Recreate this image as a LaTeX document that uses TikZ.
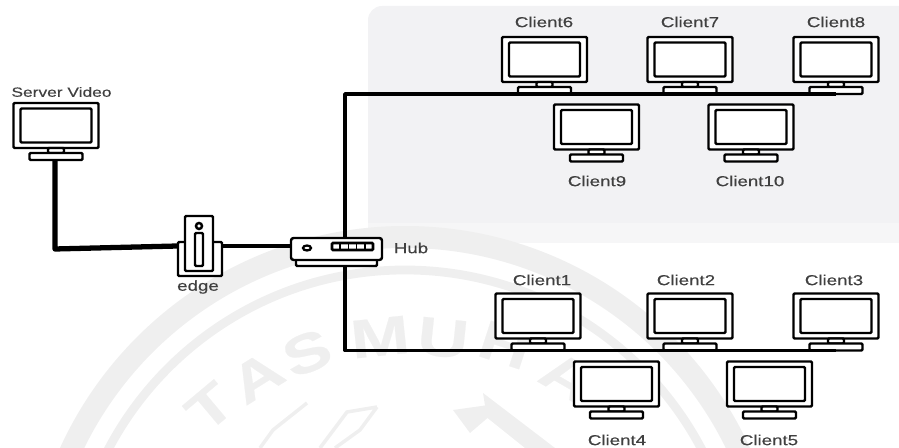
\documentclass[tikz,border=0pt]{standalone}
\usepackage{fontspec}
\setmainfont[FakeStretch=1.3, FakeBold=0.4]{Liberation Sans}
\usepackage{xcolor}
\usepackage{tikz}
\usetikzlibrary{calc, positioning}
\definecolor{zonegray}{HTML}{F2F2F4}
\definecolor{zonefade}{HTML}{F6F6F7}
\definecolor{labelgray}{HTML}{404040}
\definecolor{markgray}{HTML}{EFEFEF}
\tikzset{
    iconline/.style={draw=black, line width=1.4pt, fill=white, rounded corners=0.6pt, inner sep=0pt, outer sep=0pt},
    screen/.style={iconline, minimum width=1.7cm, minimum height=0.9cm},
    panel/.style={iconline, minimum width=1.42cm, minimum height=0.68cm},
    neck/.style={iconline, minimum width=0.32cm, minimum height=0.1cm},
    stand/.style={iconline, minimum width=1.06cm, minimum height=0.14cm},
    devlabel/.style={font=\fontsize{8.2}{9}\selectfont, text=labelgray, inner sep=0pt},
    marktext/.style={font=\fontsize{31}{33}\selectfont\bfseries, text=markgray, inner sep=0pt},
    cable/.style={line width=2pt, line join=round}
}
% Một màn hình: tên, tâm x, tâm y
\newcommand{\monitor}[3]{
    \node[screen] (#1) at (#2,#3) {};
    \node[panel] at (#1) {};
    \node[neck, below=0pt of #1] (#1neck) {};
    \node[stand, below=0pt of #1neck] (#1base) {};
}
\begin{document}
\begin{tikzpicture}[>=latex]
    \useasboundingbox (0,0) rectangle (17.98,8.96);
    % Vùng nền xám
    \fill[zonefade] (7.36,4.1) rectangle (17.98,4.5);
    \fill[zonegray, rounded corners=8pt] (7.36,4.5) -- (7.36,8.84) -- (18.4,8.84) -- (18.4,4.5) -- cycle;
    \fill[zonegray] (7.36,4.5) rectangle (17.98,4.8);

    % Hình mờ phía sau
    \begin{scope}
        \clip (0,0) rectangle (17.98,4.5);
        \draw[markgray, line width=12.5pt] (8.1,-3.14) circle (7.36);
        \draw[markgray, line width=5pt] (8.1,-3.14) circle (6.7);
        \foreach \letter/\mx/\my/\rot in {T/4.2/0.82/40, A/5.14/1.42/32, S/6.14/1.9/22, M/7.6/2.22/6,
                                          U/8.86/2.2/-6, H/10.1/2.06/-18, A/11.34/1.42/-30} {
            \node[marktext, rotate=\rot] at (\mx,\my) {\letter};
        }
        \draw[markgray, line width=2pt] (6.14,0.9) -- (5.46,0.36) -- (5.2,0);
        \draw[markgray, line width=2pt] (7.54,0.82) -- (6.94,0.72) -- (6.4,0) (7.54,0.82) -- (7.2,0.36) -- (6.7,0);
        \fill[markgray] (9.66,1.1) -- (11.1,0) -- (10.5,0) -- (9.75,0.6) -- (9.4,0.3) -- (9.06,0.76) -- (9.7,0.85) -- cycle;
    \end{scope}

    % Máy chủ và các máy trạm
    \monitor{server}{1.12}{6.45}
    \node[devlabel, font=\fontsize{7.6}{9}\selectfont] (serverlabel) at (1.23,7.12) {Server Video};
    \foreach \id/\x/\y/\lx/\ly/\txt in {
        c6/10.89/7.77/10.88/8.52/Client6, c7/13.80/7.77/13.80/8.52/Client7, c8/16.72/7.77/16.72/8.52/Client8,
        c9/11.93/6.42/11.94/5.34/Client9, c10/15.02/6.42/15.00/5.34/Client10,
        c1/10.76/2.64/10.84/3.36/Client1, c2/13.80/2.64/13.72/3.36/Client2, c3/16.72/2.64/16.68/3.36/Client3,
        c4/12.33/1.28/12.34/0.16/Client4, c5/15.39/1.28/15.38/0.16/Client5} {
        \monitor{\id}{\x}{\y}
        \node[devlabel] (\id label) at (\lx,\ly) {\txt};
    }

    % Thiết bị edge
    \node[iconline, minimum width=0.88cm, minimum height=0.68cm] (edgebox) at (4.00,3.78) {};
    \node[iconline, minimum width=0.56cm, minimum height=1.1cm] (edgetower) at (3.98,4.09) {};
    \node[iconline, minimum width=0.16cm, minimum height=0.66cm] (edgeslot) at (3.98,3.97) {};
    \node[iconline, circle, minimum size=0.12cm] (edgedot) at (3.98,4.44) {};
    \node[devlabel] (edgelabel) at (3.96,3.22) {edge};

    % Các đường nối
    \coordinate (bend) at (1.10,3.98);
    \coordinate (edgein) at (3.56,4.04);
    \coordinate (tap) at (6.90,3.98);
    \draw[cable, line width=3pt] (serverbase.south -| bend) -- (bend) -- (edgein);
    \coordinate (edgeout) at (edgebox.east |- edgein);
    \draw[cable] (tap) |- (c8base.south);
    \draw[cable] (tap) |- (c3base.south);

    % Hub
    \node[iconline, minimum width=1.62cm, minimum height=0.14cm] (hubfoot) at (6.73,3.71) {};
    \node[iconline, rounded corners=1.5pt, minimum width=1.82cm, minimum height=0.44cm] (hub) at (6.73,3.98) {};
    \draw[cable] (edgeout) -- (hub.west |- edgeout);
    \draw[line width=1.3pt] (6.14,4.00) ellipse (0.08 and 0.05);
    \node[iconline, line width=1.5pt, minimum width=0.82cm, minimum height=0.14cm] (ports) at (7.05,4.03) {};
    \foreach \i in {1,...,4} {
        \draw[line width=1pt] ($(ports.west)+(\i*0.164,-0.07)$) -- ++(0,0.14);
    }
    \node[devlabel] (hublabel) at (8.22,4.00) {Hub};
\end{tikzpicture}
\end{document}
